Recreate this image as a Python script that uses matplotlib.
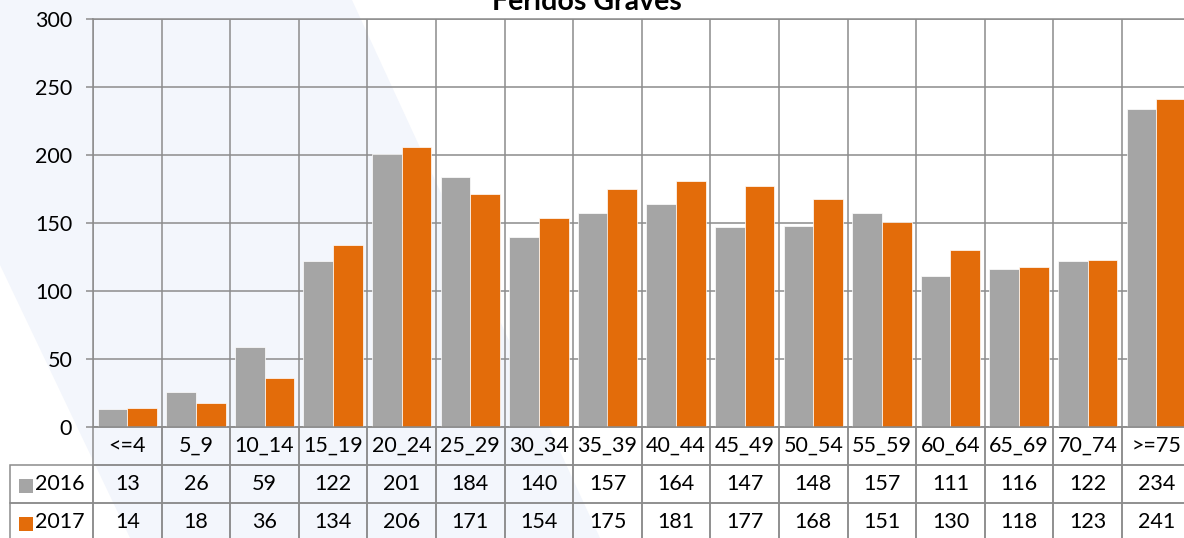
import numpy as np
import matplotlib
matplotlib.use("Agg")
import matplotlib.pyplot as plt
from matplotlib.patches import Polygon, Rectangle
from matplotlib.table import Table

plt.rcParams['font.family'] = ['Lato', 'DejaVu Sans']

# dados
faixas = ['<=4', '5_9', '10_14', '15_19', '20_24', '25_29', '30_34', '35_39',
          '40_44', '45_49', '50_54', '55_59', '60_64', '65_69', '70_74', '>=75']
anos = ['2016', '2017']
feridos_2016 = [13, 26, 59, 122, 201, 184, 140, 157, 164, 147, 148, 157, 111, 116, 122, 234]
feridos_2017 = [14, 18, 36, 134, 206, 171, 154, 175, 181, 177, 168, 151, 130, 118, 123, 241]
cores = ['#A5A5A5', '#E36C0A']
cinza = '#8C8C8C'

W, H = 1184, 538
fig = plt.figure(figsize=(W / 100, H / 100), dpi=100)

# faixa azul clara do fundo
fig.add_artist(Polygon([(0, 1), (352 / W, 1), (600 / W, 0), (130 / W, 0), (0, 1 - 265 / H)],
                       closed=True, transform=fig.transFigure,
                       facecolor='#F3F6FC', edgecolor='none', zorder=-1))

ax = fig.add_axes([93 / W, 1 - 427 / H, 1097.6 / W, 408 / H])
ax.set_facecolor('none')

x = np.arange(len(faixas))
bw = 0.433
series = [feridos_2016, feridos_2017]
for i, vals in enumerate(series):
    ax.bar(x + (i - 0.5) * bw, vals, bw, color=cores[i], edgecolor='white',
           linewidth=0.5, zorder=2)

ax.set_xlim(-0.5, len(faixas) - 0.5)
ax.set_ylim(0, 300)
ax.set_yticks(range(0, 301, 50))
ax.set_xticks(np.arange(-0.5, len(faixas), 1))
ax.set_xticklabels([])
ax.tick_params(axis='x', length=0)
ax.tick_params(axis='y', direction='out', length=5, width=1.1, color=cinza,
               labelsize=15.5, pad=10)
ax.grid(True, color=cinza, linewidth=1.1, zorder=0)
ax.set_axisbelow(True)
for s in ax.spines.values():
    s.set_color(cinza)
    s.set_linewidth(1.1)

# tabela de dados (o bbox vale só para a grade de valores)
th = 114 / 408
tab = Table(ax, bbox=[0, -th, 1, th])
cw = 1 / len(faixas)
rw = 83 / 1097.6
for j, f in enumerate(faixas):
    tab.add_cell(0, j, width=cw, height=1, text=f, loc='center', facecolor='none')
for i, vals in enumerate(series):
    tab.add_cell(i + 1, -1, width=rw, height=1, text=anos[i], loc='right', facecolor='none')
    for j, v in enumerate(vals):
        tab.add_cell(i + 1, j, width=cw, height=1, text=str(v), loc='center', facecolor='none')
for cell in tab.get_celld().values():
    cell.set_edgecolor(cinza)
    cell.set_linewidth(1.1)
tab.auto_set_font_size(False)
tab.set_fontsize(15.5)
ax.add_table(tab)

# quadrados da legenda
for i, y in enumerate([479, 517]):
    fig.add_artist(Rectangle((19 / W, 1 - (y + 14) / H), 14 / W, 14 / H,
                             transform=fig.transFigure, facecolor=cores[i],
                             edgecolor='none'))

fig.text(587 / W, 1 - 10 / H, 'Feridos Graves', ha='center', va='baseline',
         fontsize=20.5, fontweight='bold')

fig.savefig('out.png', dpi=100)
